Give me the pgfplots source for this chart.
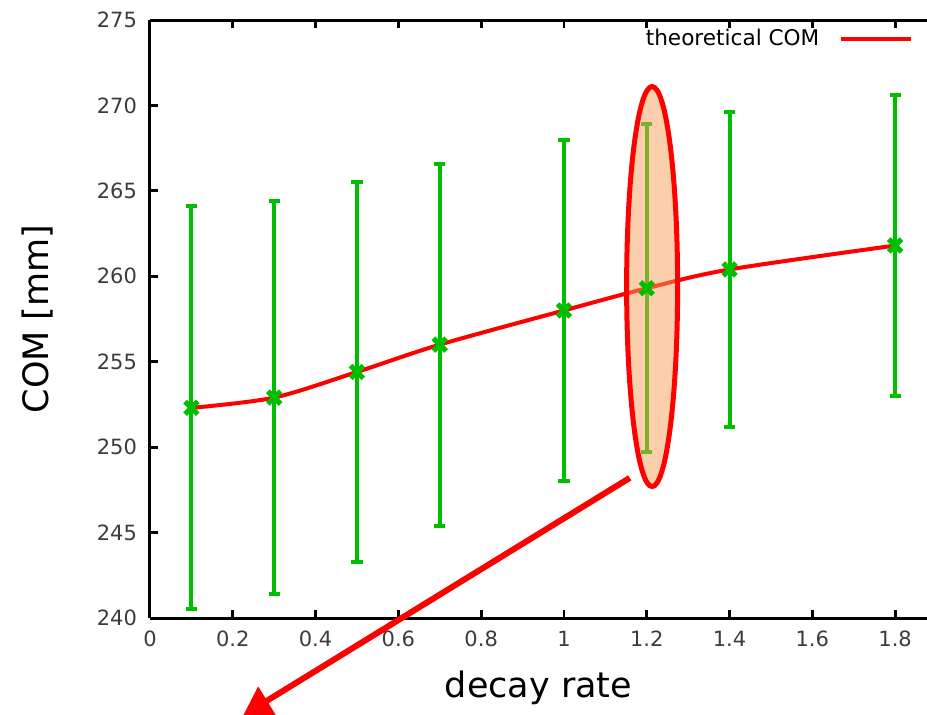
\documentclass[border=0pt]{standalone}
\usepackage{pgfplots}
\pgfplotsset{compat=1.18}
\usepackage{fontspec}
\setmainfont{DejaVu Sans}
\usetikzlibrary{arrows.meta}

\definecolor{barGreen}{RGB}{0,190,0}
\definecolor{tickGray}{RGB}{60,60,60}
\definecolor{blobFill}{RGB}{250,160,90}

\begin{document}
\begin{tikzpicture}
\begin{axis}[
    scale only axis,
    width=388.5pt, height=299pt,
    xmin=0, xmax=1.877,
    ymin=240, ymax=275,
    xtick={0,0.2,0.4,0.6,0.8,1,1.2,1.4,1.6,1.8},
    ytick={240,245,...,275},
    axis x line=box,
    axis y line=left,
    axis line style={line width=1.5pt, -},
    tick style={line width=1.4pt, black},
    tick align=inside,
    major tick length=4pt,
    /pgf/number format/assume math mode=true,
    tick label style={font=\fontsize{10.5}{12}\selectfont, text=tickGray},
    xticklabel style={yshift=-3pt},
    yticklabel style={xshift=-3pt},
    xlabel={decay rate},
    ylabel={COM [mm]},
    every axis x label/.style={at={(axis description cs:0.5,0)}, yshift=-35pt, anchor=center,
        font=\fontsize{17.5}{20}\selectfont},
    every axis y label/.style={at={(axis description cs:0,0.5)}, xshift=-56pt, rotate=90, anchor=center,
        font=\fontsize{17.5}{20}\selectfont},
    clip=false,
    legend style={draw=none, fill=none, at={(axis cs:1.845,273.9)}, anchor=east,
        font=\fontsize{10.8}{12}\selectfont, inner sep=0pt},
    legend plot pos=right,
    legend cell align=right,
]
% theoretical curve
\addplot[red, line width=2pt, smooth, tension=0.5,
    legend image code/.code={\path (0pt,0pt); \draw[red, line width=2pt] (8pt,0pt) -- (43pt,0pt);}]
coordinates {
    (0.1,252.3) (0.3,252.9) (0.5,254.4) (0.7,256.0)
    (1.0,258.0) (1.2,259.3) (1.4,260.4) (1.8,261.8)
};
\addlegendentry{theoretical COM}

% measured COM with spread
\addplot[barGreen, only marks, mark=x, mark size=4.5pt, mark options={line width=2.6pt},
    error bars/.cd, y dir=both, y explicit,
    error bar style={line width=2pt, barGreen},
    error mark options={rotate=90, mark size=2.8pt, line width=2pt, barGreen}]
coordinates {
    (0.1,252.3) +- (0,11.8)
    (0.3,252.9) +- (0,11.5)
    (0.5,254.4) +- (0,11.1)
    (0.7,256.0) +- (0,10.6)
    (1.0,258.0) +- (0,10.0)
    (1.2,259.3) +- (0,9.6)
    (1.4,260.4) +- (0,9.2)
    (1.8,261.8) +- (0,8.8)
};

% highlight and pointer
\draw[red, line width=2.5pt, fill=blobFill, fill opacity=0.5]
    (axis cs:1.213,259.4) ellipse [x radius=12.75pt, y radius=100pt];
\draw[red, line width=3pt, -{Triangle[length=14pt,width=16pt]}]
    (axis cs:1.159,248.2) -- (axis cs:0.225,234.3);
\end{axis}
\pgfresetboundingbox
\path (-75pt,-48pt) rectangle (388.5pt,309pt);
\end{tikzpicture}
\end{document}
